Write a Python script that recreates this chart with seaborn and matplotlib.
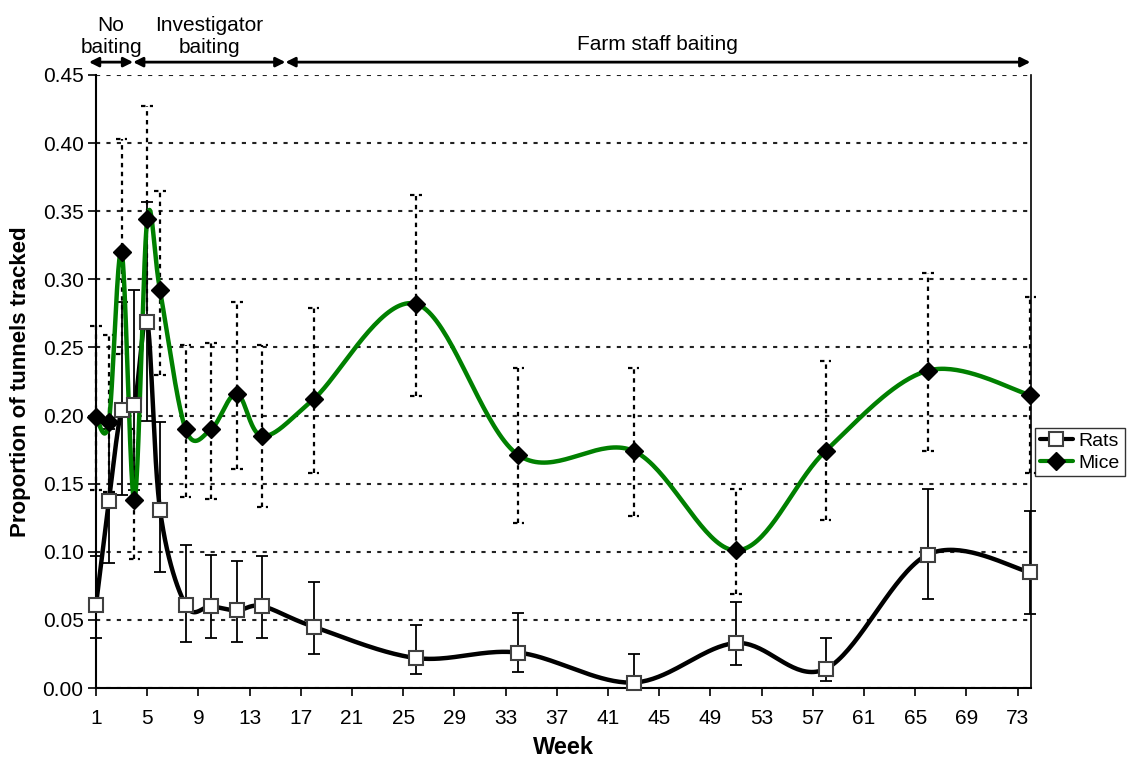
import numpy as np
import matplotlib
matplotlib.use("Agg")
import matplotlib.pyplot as plt
import seaborn as sns
from matplotlib.lines import Line2D

# --- data ---
weeks = [1, 2, 3, 4, 5, 6, 8, 10, 12, 14, 18, 26, 34, 43, 51, 58, 66, 74]

rats = [0.061, 0.137, 0.204, 0.208, 0.269, 0.131, 0.061, 0.060, 0.057, 0.060,
        0.045, 0.022, 0.026, 0.004, 0.033, 0.014, 0.098, 0.085]
rats_lo = [0.037, 0.092, 0.142, 0.145, 0.196, 0.085, 0.034, 0.037, 0.034, 0.037,
           0.025, 0.010, 0.012, 0.000, 0.017, 0.005, 0.065, 0.054]
rats_hi = [0.097, 0.190, 0.283, 0.292, 0.357, 0.195, 0.105, 0.098, 0.093, 0.097,
           0.078, 0.046, 0.055, 0.025, 0.063, 0.037, 0.146, 0.130]

mice = [0.199, 0.195, 0.320, 0.138, 0.344, 0.292, 0.190, 0.190, 0.216, 0.185,
        0.212, 0.282, 0.171, 0.174, 0.101, 0.174, 0.233, 0.215]
mice_lo = [0.145, 0.144, 0.245, 0.095, 0.270, 0.230, 0.140, 0.139, 0.161, 0.133,
           0.158, 0.214, 0.121, 0.126, 0.069, 0.123, 0.174, 0.158]
mice_hi = [0.266, 0.259, 0.403, 0.190, 0.427, 0.365, 0.252, 0.253, 0.283, 0.252,
           0.279, 0.362, 0.235, 0.235, 0.146, 0.240, 0.305, 0.287]

phase_edges = [0.45, 3.9, 15.8, 74]
phase_labels = ["No\nbaiting", "Investigator\nbaiting", "Farm staff baiting"]


def excel_smooth(x, y, n=40):
    # Catmull-Rom style bezier, like Excel's "smoothed line"
    x = np.asarray(x, float)
    y = np.asarray(y, float)
    px = np.concatenate([[x[0]], x, [x[-1]]])
    py = np.concatenate([[y[0]], y, [y[-1]]])
    t = np.linspace(0, 1, n)
    xs, ys = [], []
    for i in range(len(x) - 1):
        p0 = np.array([px[i], py[i]])
        p1 = np.array([px[i + 1], py[i + 1]])
        p2 = np.array([px[i + 2], py[i + 2]])
        p3 = np.array([px[i + 3], py[i + 3]])
        b1 = p1 + (p2 - p0) / 6
        b2 = p2 - (p3 - p1) / 6
        for tt in t:
            pt = ((1 - tt) ** 3 * p1 + 3 * (1 - tt) ** 2 * tt * b1
                  + 3 * (1 - tt) * tt ** 2 * b2 + tt ** 3 * p2)
            xs.append(pt[0])
            ys.append(pt[1])
    return np.array(xs), np.array(ys)


sns.set_theme(style="white")
plt.rcParams["font.family"] = ["Liberation Sans", "DejaVu Sans"]
plt.rcParams["text.color"] = "black"
plt.rcParams["axes.labelcolor"] = "black"

fig = plt.figure(figsize=(11.47, 7.6), dpi=100)
ax = fig.add_axes([96 / 1147, 1 - 688 / 760, 935 / 1147, 613 / 760])

w = np.array(weeks)

# error bars
ax.errorbar(w, rats, yerr=[np.array(rats) - np.array(rats_lo), np.array(rats_hi) - np.array(rats)],
            fmt="none", ecolor="black", elinewidth=1.3, capsize=4.5, capthick=1.3,
            zorder=2, clip_on=False)
dots = (0, (2, 2))
ax.vlines(w, mice_lo, mice_hi, colors="black", linestyles=dots, lw=1.6, zorder=2, clip_on=False)
ax.hlines(mice_hi, w - 0.45, w + 0.45, colors="black", linestyles=dots, lw=1.6, zorder=2, clip_on=False)
ax.hlines(mice_lo, w - 0.45, w + 0.45, colors="black", linestyles=dots, lw=1.6, zorder=2, clip_on=False)

# smoothed lines
rx, ry = excel_smooth(weeks, rats)
mx, my = excel_smooth(weeks, mice)
sns.lineplot(x=rx, y=ry, sort=False, color="black", lw=3.2, ax=ax, zorder=3)
sns.lineplot(x=mx, y=my, sort=False, color="#008000", lw=3.2, ax=ax, zorder=3)

# markers
ax.plot(w, rats, ls="none", marker="s", ms=10.5, mfc="white", mec="#404040", mew=1.5, zorder=5, clip_on=False)
ax.plot(w, mice, ls="none", marker="D", ms=9.5, mfc="black", mec="black", zorder=5, clip_on=False)

# axes
ax.set_xlim(1, 74.05)
ax.set_ylim(0, 0.45)
ax.set_xticks(range(1, 74, 4))
ax.set_yticks(np.arange(0, 0.451, 0.05))
ax.set_yticklabels([f"{v:.2f}" for v in np.arange(0, 0.451, 0.05)])
ax.tick_params(axis="both", labelsize=15, colors="black", direction="out",
               length=6, width=1.2, left=True, bottom=True, pad=3)
ax.tick_params(axis="x", pad=9)
ax.yaxis.grid(True, linestyle=(0, (2, 3)), color="#222222", lw=1.5)
ax.xaxis.grid(False)
ax.set_axisbelow(True)
for s in ["left", "bottom"]:
    ax.spines[s].set_color("black")
    ax.spines[s].set_linewidth(1.5)
ax.spines["right"].set_color("black")
ax.spines["right"].set_linewidth(1.2)
ax.spines["top"].set_visible(False)

ax.set_xlabel("Week", fontsize=17, fontweight="bold", labelpad=6, color="black")
ax.set_ylabel("Proportion of tunnels tracked", fontsize=16, fontweight="bold", labelpad=8, color="black")

# baiting phases along the top
for i, lab in enumerate(phase_labels):
    ax.annotate("", xy=(phase_edges[i + 1], 1.021), xytext=(phase_edges[i], 1.021),
                xycoords=("data", "axes fraction"), textcoords=("data", "axes fraction"),
                arrowprops=dict(arrowstyle="<|-|>", color="black", lw=2,
                                mutation_scale=14, shrinkA=0, shrinkB=0),
                annotation_clip=False)
    ty = 1.049 if "\n" not in lab else 1.063
    ax.text((phase_edges[i] + phase_edges[i + 1]) / 2, ty, lab, transform=ax.get_xaxis_transform(),
            ha="center", va="center", fontsize=15, linespacing=1.15, color="black")

# legend
handles = [
    Line2D([], [], color="black", lw=3, marker="s", ms=10, mfc="white", mec="#404040", mew=1.5),
    Line2D([], [], color="#008000", lw=3, marker="D", ms=9, mfc="black", mec="black"),
]
leg = ax.legend(handles, ["Rats", "Mice"], loc="center left", bbox_to_anchor=(1.004, 0.385),
                fontsize=14, frameon=True, fancybox=False, handlelength=1.7,
                handletextpad=0.3, borderpad=0.25, labelspacing=0.2, borderaxespad=0)
leg.get_frame().set_edgecolor("black")
leg.get_frame().set_linewidth(1)
for t in leg.get_texts():
    t.set_color("black")

fig.savefig("out.png", dpi=100)
